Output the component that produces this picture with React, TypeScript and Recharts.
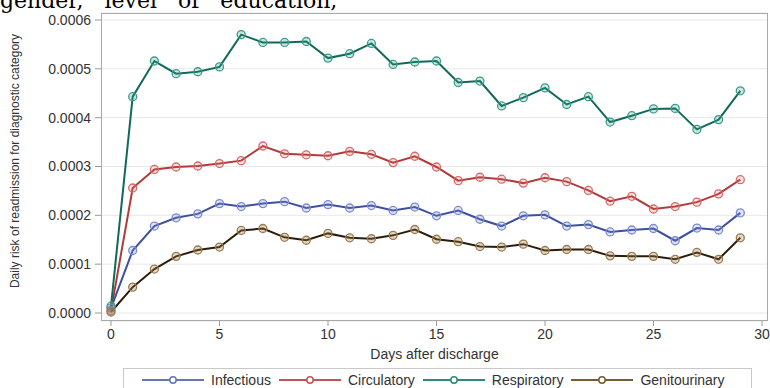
import { LineChart, Line, XAxis, YAxis, CartesianGrid } from 'recharts'

const DAYS = [0, 1, 2, 3, 4, 5, 6, 7, 8, 9, 10, 11, 12, 13, 14, 15, 16, 17, 18, 19, 20, 21, 22, 23, 24, 25, 26, 27, 28, 29]

const INFECTIOUS = [
  0.00001, 0.000128, 0.000178, 0.000195, 0.000203, 0.000224, 0.000218, 0.000224, 0.000228, 0.000215,
  0.000222, 0.000215, 0.00022, 0.00021, 0.000217, 0.000199, 0.00021, 0.000192, 0.000178, 0.000199,
  0.000201, 0.000178, 0.000181, 0.000166, 0.00017, 0.000173, 0.000148, 0.000174, 0.00017, 0.000205,
]
const CIRCULATORY = [
  0.000005, 0.000256, 0.000294, 0.000299, 0.000301, 0.000306, 0.000312, 0.000342, 0.000326, 0.000324,
  0.000322, 0.000331, 0.000325, 0.000308, 0.000321, 0.000299, 0.000271, 0.000278, 0.000274, 0.000266,
  0.000277, 0.000269, 0.000251, 0.000229, 0.000239, 0.000213, 0.000218, 0.000227, 0.000244, 0.000273,
]
const RESPIRATORY = [
  0.000014, 0.000443, 0.000516, 0.00049, 0.000494, 0.000504, 0.00057, 0.000554, 0.000554, 0.000556,
  0.000522, 0.000531, 0.000552, 0.000509, 0.000514, 0.000516, 0.000472, 0.000475, 0.000424, 0.000441,
  0.000461, 0.000427, 0.000443, 0.000391, 0.000404, 0.000418, 0.000419, 0.000376, 0.000396, 0.000455,
]
const GENITOURINARY = [
  0.000002, 0.000053, 0.00009, 0.000116, 0.000129, 0.000135, 0.000169, 0.000173, 0.000155, 0.000149,
  0.000163, 0.000154, 0.000152, 0.000159, 0.000171, 0.000151, 0.000146, 0.000136, 0.000135, 0.000141,
  0.000128, 0.00013, 0.00013, 0.000117, 0.000116, 0.000116, 0.00011, 0.000124, 0.00011, 0.000154,
]

const X_TICKS = [0, 5, 10, 15, 20, 25, 30]
const Y_TICKS = [0, 0.0001, 0.0002, 0.0003, 0.0004, 0.0005, 0.0006]

const SERIES = [
  { key: 'Infectious', line: '#3d4f9e', marker: '#7b8bd0', fill: 'rgba(123,139,208,0.25)', legend: '#6576b5' },
  { key: 'Circulatory', line: '#b33a3a', marker: '#d46a6a', fill: 'rgba(212,106,106,0.2)', legend: '#c25555' },
  { key: 'Respiratory', line: '#11695a', marker: '#3c9c8a', fill: 'rgba(60,156,138,0.25)', legend: '#2d8a78' },
  { key: 'Genitourinary', line: '#2b1d0c', marker: '#9c7a4c', fill: 'rgba(156,122,76,0.3)', legend: '#7b5b33' },
]

const data = DAYS.map((day, i) => ({
  day,
  Infectious: INFECTIOUS[i],
  Circulatory: CIRCULATORY[i],
  Respiratory: RESPIRATORY[i],
  Genitourinary: GENITOURINARY[i],
}))

const font = '"Liberation Sans", Arial, sans-serif'

function LegendBox() {
  return (
    <div style={{
      position: 'absolute',
      left: 123,
      top: 368,
      width: 629,
      height: 24,
      border: '1px solid #c8c8c8',
      boxSizing: 'border-box',
      display: 'flex',
      alignItems: 'center',
      paddingLeft: 18,
      fontFamily: font,
      fontSize: 14,
      lineHeight: '16px',
      color: '#333',
    }}>
      {SERIES.map((s) => (
        <div key={s.key} style={{ display: 'flex', alignItems: 'center', marginRight: 8 }}>
          <svg width={62} height={10}>
            <line x1={0} y1={5} x2={62} y2={5} stroke={s.legend} strokeWidth={2} />
            <circle cx={31} cy={5} r={3.2} fill="#fff" stroke={s.legend} strokeWidth={1.5} />
          </svg>
          <span style={{ marginLeft: 7 }}>{s.key}</span>
        </div>
      ))}
    </div>
  )
}

export default function App() {
  return (
    <div style={{ position: 'absolute', left: 0, top: 0, width: 770, height: 388, overflow: 'hidden', background: '#fff' }}>
      <div style={{
        position: 'absolute',
        left: 0,
        top: -10,
        fontFamily: '"DejaVu Serif", serif',
        fontSize: 22,
        lineHeight: '22px',
        wordSpacing: 14,
        whiteSpace: 'nowrap',
        color: '#000',
      }}>
        gender, level of education,
      </div>
      <LineChart
        width={770}
        height={388}
        data={data}
        margin={{ top: 13, right: 2, bottom: 0, left: 0 }}
      >
        <CartesianGrid horizontal vertical={false} stroke="#e8e8e8" />
        <XAxis
          dataKey="day"
          type="number"
          domain={[0, 30]}
          ticks={X_TICKS}
          padding={{ left: 10, right: 6 }}
          height={67}
          axisLine={false}
          tickSize={5}
          tickMargin={3}
          tickLine={{ stroke: '#999' }}
          tick={{ fontFamily: font, fontSize: 14, fill: '#333' }}
          label={{ value: 'Days after discharge', position: 'insideBottom', offset: 29, style: { fontFamily: font, fontSize: 14, fill: '#333' } }}
        />
        <YAxis
          type="number"
          domain={[0, 0.0006]}
          ticks={Y_TICKS}
          padding={{ top: 7, bottom: 8 }}
          width={101}
          axisLine={false}
          tickSize={6}
          tickMargin={4}
          tickLine={{ stroke: '#999' }}
          tickFormatter={(v: number) => v.toFixed(4)}
          tick={{ fontFamily: font, fontSize: 14, fill: '#333' }}
          label={{
            value: 'Daily risk of readmission for diagnostic category',
            angle: -90,
            position: 'insideLeft',
            offset: 15,
            dy: -6,
            style: { textAnchor: 'middle', fontFamily: font, fontSize: 12, fill: '#333' },
          }}
        />
        {SERIES.map((s) => (
          <Line
            key={s.key}
            dataKey={s.key}
            type="linear"
            stroke={s.line}
            strokeWidth={2}
            dot={{ r: 4, stroke: s.marker, strokeWidth: 1.3, fill: s.fill }}
            isAnimationActive={false}
          />
        ))}
      </LineChart>
      <div style={{
        position: 'absolute',
        left: 101,
        top: 13,
        width: 667,
        height: 308,
        border: '1px solid #a8a8a8',
        boxSizing: 'border-box',
        pointerEvents: 'none',
      }} />
      <LegendBox />
    </div>
  )
}
